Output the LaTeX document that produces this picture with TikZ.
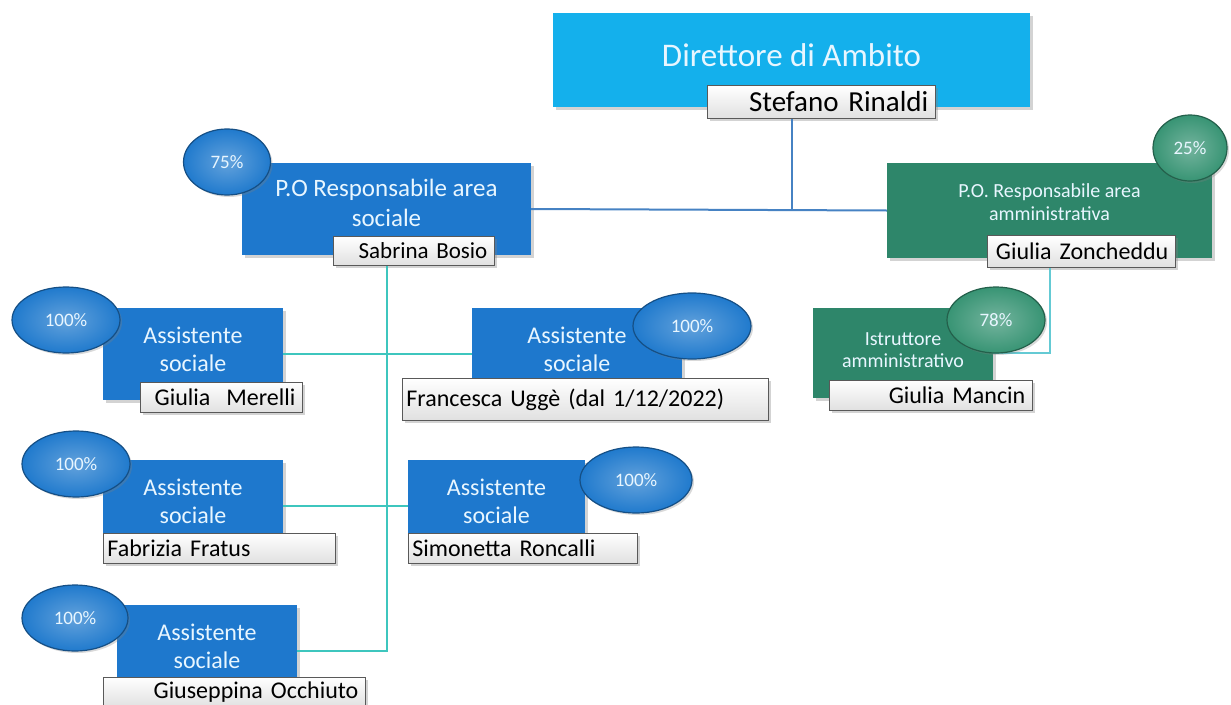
\documentclass[tikz,border=0pt]{standalone}
\usepackage{fontspec}
\setmainfont{Carlito}
\usepackage{tikz}
\usetikzlibrary{positioning,calc,shapes.geometric,shadows}
\definecolor{capo}{RGB}{20,176,236}
\definecolor{sociale}{RGB}{30,120,205}
\definecolor{ammin}{RGB}{46,134,106}
\definecolor{badgeblu}{RGB}{32,122,205}
\definecolor{badgeverde}{RGB}{56,148,116}
\definecolor{lineablu}{RGB}{70,130,195}
\definecolor{lineaverde}{RGB}{62,198,190}
\definecolor{lineachiara}{RGB}{100,202,212}
\definecolor{testo}{RGB}{232,246,255}
\tikzset{
  ruolo/.style={fill=#1, inner sep=0pt,
    drop shadow={shadow xshift=3pt, shadow yshift=-3pt, opacity=0.35}},
  dicitura/.style={text=testo, align=center, inner sep=0pt, yshift=5pt},
  nome/.style={draw=black!65, line width=0.8pt, top color=white, bottom color=black!12,
    text=black, anchor=north west, inner xsep=7pt, inner ysep=0pt,
    font=\fontsize{24}{28}\selectfont,
    drop shadow={shadow xshift=3pt, shadow yshift=-3pt, opacity=0.35}},
  perc/.style={ellipse, draw=#1!65!black, line width=1.2pt, inner color=#1!70!white,
    outer color=#1, text=testo, inner sep=0pt, minimum height=66pt,
    font=\fontsize{19}{22}\selectfont,
    drop shadow={shadow xshift=2pt, shadow yshift=-2pt, opacity=0.3}},
  conn/.style={draw=#1, line width=2pt}
}

\begin{document}
\begin{tikzpicture}[x=1pt, y=-1pt]
\useasboundingbox (0,0) rectangle (1231,704);

% caselle dei ruoli
\node[ruolo=capo, minimum width=477pt, minimum height=94pt,
  label={[dicitura, font=\fontsize{33}{40}\selectfont]center:Direttore di Ambito}] (direttore) at (791.5,60) {};
\node[ruolo=sociale, minimum width=289pt, minimum height=92pt,
  label={[dicitura, yshift=1pt, font=\fontsize{25}{30}\selectfont]center:P.O Responsabile area\\sociale}] (posociale) at (386.5,209) {};
\node[ruolo=ammin, minimum width=325pt, minimum height=95pt,
  label={[dicitura, yshift=3pt, font=\fontsize{20}{23}\selectfont]center:P.O. Responsabile area\\amministrativa}] (poammin) at (1049.5,210.5) {};
\node[ruolo=ammin, minimum width=180pt, minimum height=90pt,
  label={[dicitura, yshift=-2pt, font=\fontsize{20}{22}\selectfont]center:Istruttore\\amministrativo}] (istruttore) at (903,353) {};
\foreach \n/\x/\y/\w in {asMerelli/193/354/180, asUgge/577/354/210, asFratus/193/506/180,
    asRoncalli/496.5/506/177, asOcchiuto/207/651/180}{
  \node[ruolo=sociale, minimum width=\w pt, minimum height=92pt,
    label={[dicitura, font=\fontsize{24}{28}\selectfont]center:Assistente\\sociale}] (\n) at (\x,\y) {};
}

% nomi
\node[nome, minimum height=33pt, text width=214pt, align=right,
  font=\fontsize{29}{33}\selectfont] (Rinaldi) at (707,85) {Stefano Rinaldi};
\node[nome, minimum height=29pt, text width=147pt, align=right,
  font=\fontsize{23}{27}\selectfont] (Bosio) at (333,236) {Sabrina Bosio};
\node[nome, minimum height=32pt, text width=174pt, align=right] (Zoncheddu) at (987,235) {Giulia Zoncheddu};
\node[nome, minimum height=30pt, text width=189pt, align=right] (Mancin) at (829,380) {Giulia Mancin};
\node[nome, minimum height=30pt, text width=148pt, align=right] (Merelli) at (140,382) {Giulia\ \ Merelli};
\node[nome, minimum height=42pt, text width=358pt, align=left, inner xsep=4pt] (Ugge) at (402,378) {Francesca Uggè (dal 1/12/2022)};
\node[nome, minimum height=30pt, text width=224pt, align=left, inner xsep=4pt] (Fratus) at (103,533) {Fabrizia Fratus};
\node[nome, minimum height=30pt, text width=221pt, align=left, inner xsep=4pt] (Roncalli) at (408,533) {Simonetta Roncalli};
\node[nome, minimum height=30pt, text width=248pt, align=right] (Occhiuto) at (103,677) {Giuseppina Occhiuto};

% collegamenti
\draw[conn=lineablu] (direttore.center |- Rinaldi.south) -- (direttore.center |- posociale.east);
\draw[conn=lineablu] (posociale.east) -- (poammin.west);
\draw[conn=lineaverde] (posociale.center |- Bosio.south) -- (posociale.center |- asOcchiuto.east) -- (asOcchiuto.east);
\draw[conn=lineaverde] (asMerelli.east) -- (asUgge.west);
\draw[conn=lineaverde] (asFratus.east) -- (asRoncalli.west);
\draw[conn=lineachiara] (poammin.center |- Zoncheddu.south) -- (poammin.center |- istruttore.east) -- (istruttore.east);

% percentuali
\foreach \n/\c/\x/\y/\w/\t in {p75/badgeblu/227/162/87/75\%, p25/badgeverde/1190/148/74/25\%,
    p78/badgeverde/996/320/98/78\%, pMerelli/badgeblu/66/320/108/100\%,
    pUgge/badgeblu/692/326/118/100\%, pFratus/badgeblu/76/464/108/100\%,
    pRoncalli/badgeblu/636/480/112/100\%, pOcchiuto/badgeblu/75/618/106/100\%}{
  \node[perc=\c, minimum width=\w pt] (\n) at (\x,\y) {\t};
}
\end{tikzpicture}
\end{document}
